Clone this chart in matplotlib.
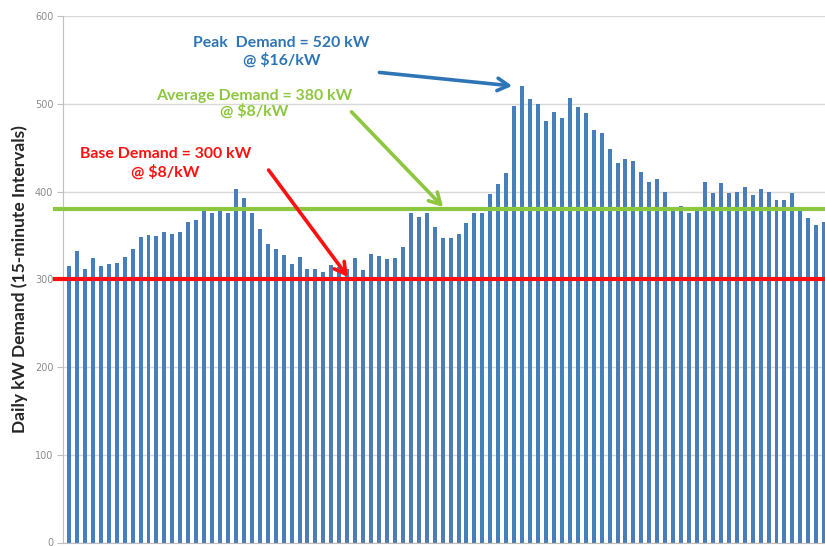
import numpy as np
import matplotlib.pyplot as plt

# Demanda diaria en intervalos de 15 minutos (96 intervalos)
demand_kw = [315, 332, 312, 324, 315, 317, 318, 325, 335, 348,
             350, 349, 354, 351, 354, 365, 368, 382, 375, 382,
             375, 403, 393, 375, 357, 340, 334, 328, 317, 325,
             312, 312, 308, 316, 314, 312, 324, 311, 329, 327,
             323, 324, 337, 375, 371, 375, 359, 347, 347, 351,
             364, 375, 375, 397, 409, 421, 498, 520, 505, 500,
             480, 491, 484, 507, 496, 490, 470, 467, 449, 432,
             437, 435, 422, 411, 414, 400, 381, 384, 376, 382,
             411, 398, 410, 398, 400, 405, 396, 403, 400, 390,
             390, 398, 382, 370, 362, 365]
intervals = np.arange(1, len(demand_kw) + 1)

peak_demand = 520
avg_demand = 380
base_demand = 300
y_ticks = [0, 100, 200, 300, 400, 500, 600]

bar_color = '#4A7EBB'
blue = '#2E75B6'
green = '#8DC63F'
red = '#FF1010'
font = ['Lato', 'DejaVu Sans']

fig = plt.figure(figsize=(8.25, 5.46), dpi=100)
ax = fig.add_axes([63 / 825, 3.5 / 546, 1 - 63 / 825, (542.5 - 16) / 546])

ax.bar(intervals, demand_kw, width=0.5, color=bar_color, zorder=2)

# líneas de demanda base y promedio
ax.axhline(avg_demand, xmin=-0.011, xmax=1, color=green, lw=3, zorder=3, clip_on=False)
ax.axhline(base_demand, xmin=-0.011, xmax=1, color=red, lw=3, zorder=3, clip_on=False)

ax.set_xlim(0.245, 96.1)
ax.set_ylim(0, 600)
ax.set_yticks(y_ticks)
ax.set_xticks([])
ax.yaxis.grid(True, color='#D9D9D9', lw=1)
ax.set_axisbelow(True)
for s in ['top', 'right']:
    ax.spines[s].set_visible(False)
ax.spines['left'].set_color('#BFBFBF')
ax.spines['bottom'].set_color('#BFBFBF')
ax.tick_params(axis='y', length=4, color='#BFBFBF', labelsize=7, labelcolor='#8C8C8C', pad=3)

ax.set_ylabel('Daily kW Demand (15-minute Intervals)', family=font, fontweight='bold',
              fontsize=12.5, color='#262626', labelpad=5)

arrow = dict(arrowstyle='->,head_length=0.8,head_width=0.45', lw=2.6)

# anotaciones
ax.text(27.7, 559, 'Peak  Demand = %d kW\n@ $16/kW' % peak_demand, ha='center', va='center',
        color=blue, fontsize=11.4, fontweight='bold', family=font, linespacing=1.2)
ax.annotate('', xy=(57.1, peak_demand), xytext=(39.7, 536),
            arrowprops=dict(arrow, color=blue))

ax.text(24.3, 500, 'Average Demand = %d kW\n@ $8/kW' % avg_demand, ha='center', va='center',
        color=green, fontsize=11.4, fontweight='bold', family=font, linespacing=1.02)
ax.annotate('', xy=(48.3, avg_demand), xytext=(36.3, 493),
            arrowprops=dict(arrow, color=green))

ax.text(13.1, 432, 'Base Demand = %d kW\n@ $8/kW' % base_demand, ha='center', va='center',
        color=red, fontsize=11.4, fontweight='bold', family=font, linespacing=1.25)
ax.annotate('', xy=(36.3, base_demand), xytext=(25.9, 427),
            arrowprops=dict(arrow, color=red))

fig.savefig('out.png', dpi=100)
